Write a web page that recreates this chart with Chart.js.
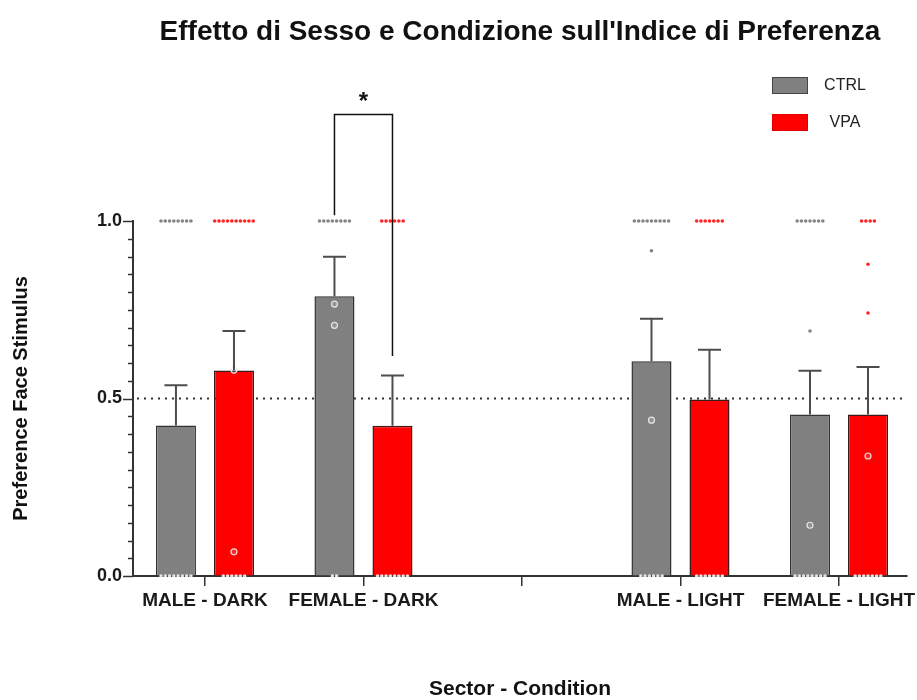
<!DOCTYPE html>
<html>
<head>
<meta charset="utf-8">
<script src="https://cdn.jsdelivr.net/npm/chart.js@4"></script>
<style>
  html, body { margin: 0; padding: 0; background: #fff; }
  canvas { display: block; }
</style>
</head>
<body>
<canvas id="chart" width="917" height="700"></canvas>
<script>
// ---- data ----
const categories = ['MALE - DARK', 'FEMALE - DARK', '', 'MALE - LIGHT', 'FEMALE - LIGHT'];
const seriesNames = ['CTRL', 'VPA'];

const ctrlMeans = [0.424, 0.788, null, 0.605, 0.455];
const ctrlSem   = [0.113, 0.111, null, 0.120, 0.123];
const vpaMeans  = [0.579, 0.423, null, 0.497, 0.455];
const vpaSem    = [0.111, 0.142, null, 0.140, 0.134];

// individual scores per animal, one list per category
const ctrlPoints = [
  [1, 1, 1, 1, 1, 1, 1, 1, 0, 0, 0, 0, 0, 0, 0, 0],
  [1, 1, 1, 1, 1, 1, 1, 1, 0.766, 0.706, 0, 0],
  [],
  [1, 1, 1, 1, 1, 1, 1, 1, 1, 0.916, 0.439, 0, 0, 0, 0, 0, 0],
  [1, 1, 1, 1, 1, 1, 1, 0.690, 0.143, 0, 0, 0, 0, 0, 0, 0, 0]
];
const vpaPoints = [
  [1, 1, 1, 1, 1, 1, 1, 1, 1, 1, 0.58, 0.068, 0, 0, 0, 0, 0, 0],
  [1, 1, 1, 1, 1, 1, 0, 0, 0, 0, 0, 0, 0, 0],
  [],
  [1, 1, 1, 1, 1, 1, 1, 0, 0, 0, 0, 0, 0, 0],
  [1, 1, 1, 1, 0.878, 0.741, 0.338, 0, 0, 0, 0, 0, 0, 0]
];

const yTickValues = [0, 0.5, 1.0];
const yTickLabels = ['0.0', '0.5', '1.0'];
const chanceLevel = 0.5;

// CTRL vs VPA comparison in FEMALE - DARK
const sigCategory = 1;
const sigLabel = '*';
const sigLevels = [1.30, 1.016, 0.62];   // bracket top, left leg end, right leg end

// ---- styling ----
const FONT = "'Liberation Sans', Arial, Helvetica, sans-serif";
const CTRL_FILL = '#808080';
const VPA_FILL = '#ff0000';
const CAT_PCT = 0.732;
const BAR_PCT = 0.69;
const groupShift = CAT_PCT / 4;   // centre of each bar relative to its category
const dotStep = 0.027;            // horizontal spacing of tied scores

Chart.defaults.font.family = FONT;

function barData(means, sem) {
  const out = [];
  means.forEach((m, i) => { if (m !== null) out.push({ x: i, y: m, sem: sem[i] }); });
  return out;
}

// spread tied scores sideways around the bar centre
function dotData(pointsByCat, side) {
  const out = [];
  pointsByCat.forEach((vals, i) => {
    const counts = {};
    vals.forEach(v => { counts[v] = (counts[v] || 0) + 1; });
    const seen = {};
    vals.forEach(v => {
      const n = counts[v];
      const k = seen[v] = (seen[v] === undefined ? 0 : seen[v] + 1);
      out.push({ x: i + side * groupShift + (k - (n - 1) / 2) * dotStep, y: v, cat: i });
    });
  });
  return out;
}

function dotStyle(means, outside) {
  const inside = c => c.raw && c.raw.y <= means[c.raw.cat] + 0.01;
  return {
    pointRadius: c => inside(c) ? (c.raw.y > 0 ? 3 : 1.8) : 1.8,
    pointBackgroundColor: c => inside(c) ? (c.raw.y > 0 ? 'rgba(255,255,255,0.15)' : 'rgba(255,255,255,0.85)') : outside,
    pointBorderColor: c => inside(c) && c.raw.y > 0 ? 'rgba(240,240,240,0.9)' : 'rgba(0,0,0,0)',
    pointBorderWidth: c => inside(c) && c.raw.y > 0 ? 1.2 : 0
  };
}

// ---- plugins ----
const chanceLine = {
  id: 'chanceLine',
  beforeDatasetsDraw(chart) {
    const { ctx, chartArea, scales: { y } } = chart;
    const py = y.getPixelForValue(chanceLevel);
    ctx.save();
    ctx.strokeStyle = '#333';
    ctx.lineWidth = 2;
    ctx.setLineDash([2, 5]);
    ctx.beginPath();
    ctx.moveTo(chartArea.left + 4, py);
    ctx.lineTo(chartArea.right, py);
    ctx.stroke();
    ctx.restore();
  }
};

const yTickMarks = {
  id: 'yTickMarks',
  afterDraw(chart) {
    const { ctx, chartArea, scales: { y } } = chart;
    ctx.save();
    ctx.strokeStyle = '#333';
    ctx.lineWidth = 1.5;
    y.ticks.forEach(t => {
      const py = Math.round(y.getPixelForValue(t.value)) + 0.5;
      const major = yTickValues.some(v => Math.abs(v - t.value) < 1e-6);
      const len = major ? 10 : 5;
      ctx.beginPath();
      ctx.moveTo(chartArea.left - len, py);
      ctx.lineTo(chartArea.left, py);
      ctx.stroke();
    });
    ctx.restore();
  }
};

const errorBars = {
  id: 'errorBars',
  afterDatasetsDraw(chart) {
    const { ctx, scales: { y } } = chart;
    ctx.save();
    ctx.strokeStyle = '#4d4d4d';
    ctx.lineWidth = 2;
    chart.data.datasets.forEach((ds, di) => {
      if (ds.type !== 'bar') return;
      const meta = chart.getDatasetMeta(di);
      meta.data.forEach((bar, j) => {
        const raw = ds.data[j];
        const top = y.getPixelForValue(raw.y + raw.sem);
        ctx.beginPath();
        ctx.moveTo(bar.x, bar.y);
        ctx.lineTo(bar.x, top);
        ctx.moveTo(bar.x - 11.5, top);
        ctx.lineTo(bar.x + 11.5, top);
        ctx.stroke();
      });
    });
    ctx.restore();
  }
};

const sigBracket = {
  id: 'sigBracket',
  afterDraw(chart) {
    const { ctx, scales: { y } } = chart;
    const pick = di => {
      const ds = chart.data.datasets[di];
      const j = ds.data.findIndex(d => d.x === sigCategory);
      return chart.getDatasetMeta(di).data[j];
    };
    const a = pick(2), b = pick(3);
    const top = y.getPixelForValue(sigLevels[0]);
    ctx.save();
    ctx.strokeStyle = '#111';
    ctx.lineWidth = 1.5;
    ctx.beginPath();
    ctx.moveTo(a.x, y.getPixelForValue(sigLevels[1]));
    ctx.lineTo(a.x, top);
    ctx.lineTo(b.x, top);
    ctx.lineTo(b.x, y.getPixelForValue(sigLevels[2]));
    ctx.stroke();
    ctx.fillStyle = '#111';
    ctx.font = 'bold 24px ' + FONT;
    ctx.textAlign = 'center';
    ctx.textBaseline = 'middle';
    ctx.fillText(sigLabel, (a.x + b.x) / 2, y.getPixelForValue(1.335));
    ctx.restore();
  }
};

const legendBoxes = {
  id: 'legendBoxes',
  afterDraw(chart) {
    const { ctx, chartArea } = chart;
    ctx.save();
    chart.data.datasets.filter(d => d.type === 'bar').forEach((ds, i) => {
      const bx = chartArea.right - 135;
      const by = chartArea.top - 144 + i * 37;
      ctx.fillStyle = ds.backgroundColor;
      ctx.fillRect(bx, by, 35, 16);
      ctx.strokeStyle = ds.legendEdge;
      ctx.lineWidth = 1;
      ctx.strokeRect(bx + 0.5, by + 0.5, 35, 16);
      ctx.fillStyle = '#222';
      ctx.font = '16px ' + FONT;
      ctx.textAlign = 'center';
      ctx.textBaseline = 'middle';
      ctx.fillText(ds.label, bx + 73, by + 9);
    });
    ctx.restore();
  }
};

new Chart(document.getElementById('chart'), {
  type: 'bar',
  data: {
    datasets: [
      Object.assign({ type: 'scatter', label: 'CTRL scores', data: dotData(ctrlPoints, -1), order: 0, clip: false },
        dotStyle(ctrlMeans, '#858585')),
      Object.assign({ type: 'scatter', label: 'VPA scores', data: dotData(vpaPoints, 1), order: 0, clip: false },
        dotStyle(vpaMeans, '#ff2424')),
      {
        type: 'bar', label: seriesNames[0], data: barData(ctrlMeans, ctrlSem), order: 1,
        backgroundColor: CTRL_FILL, borderColor: '#333', borderWidth: 1.5, legendEdge: '#444',
        categoryPercentage: CAT_PCT, barPercentage: BAR_PCT
      },
      {
        type: 'bar', label: seriesNames[1], data: barData(vpaMeans, vpaSem), order: 1,
        backgroundColor: VPA_FILL, borderColor: '#3a1a1a', borderWidth: 1.5, legendEdge: '#e00000',
        categoryPercentage: CAT_PCT, barPercentage: BAR_PCT
      }
    ]
  },
  options: {
    responsive: false,
    animation: false,
    devicePixelRatio: 1,
    layout: { padding: { left: 0, right: 10, top: 0, bottom: 0 } },
    plugins: {
      legend: { display: false },
      tooltip: { enabled: false },
      title: {
        display: true,
        text: "Effetto di Sesso e Condizione sull'Indice di Preferenza",
        fullSize: false,
        color: '#111',
        font: { size: 28, weight: 'bold', lineHeight: 1.2 },
        padding: { top: 15, bottom: 172.4 }
      }
    },
    scales: {
      x: {
        type: 'linear',
        min: -0.454,
        max: 4.429,
        offset: false,
        grid: { offset: false, drawOnChartArea: false, drawTicks: true, tickLength: 10, color: '#333', lineWidth: 1.5 },
        border: { color: '#333', width: 2 },
        ticks: {
          stepSize: 1, includeBounds: false, autoSkip: false, maxRotation: 0, padding: 3,
          color: '#1a1a1a', font: { size: 19, weight: 'bold' },
          callback: v => categories[v] !== undefined ? categories[v] : ''
        },
        title: {
          display: true, text: 'Sector - Condition', color: '#111',
          font: { size: 21, weight: 'bold', lineHeight: 1 }, padding: { top: 0, bottom: 0 }
        },
        afterFit: s => { s.height = 124; s.paddingLeft = 0; s.paddingRight = 0; }
      },
      y: {
        min: 0,
        max: 1,
        grid: { drawOnChartArea: false, drawTicks: false },
        border: { color: '#333', width: 2 },
        ticks: {
          stepSize: 0.05, autoSkip: false, padding: 11,
          color: '#1a1a1a', font: { size: 18, weight: 'bold' },
          callback: v => {
            const k = yTickValues.findIndex(t => Math.abs(t - v) < 1e-6);
            return k < 0 ? '' : yTickLabels[k];
          }
        },
        title: {
          display: true, text: 'Preference Face Stimulus', color: '#111',
          font: { size: 20, weight: 'bold', lineHeight: 1.2 }, padding: { top: 9, bottom: 0 }
        },
        afterFit: s => { s.width = 133; }
      }
    }
  },
  plugins: [chanceLine, errorBars, yTickMarks, sigBracket, legendBoxes]
});
</script>
</body>
</html>
